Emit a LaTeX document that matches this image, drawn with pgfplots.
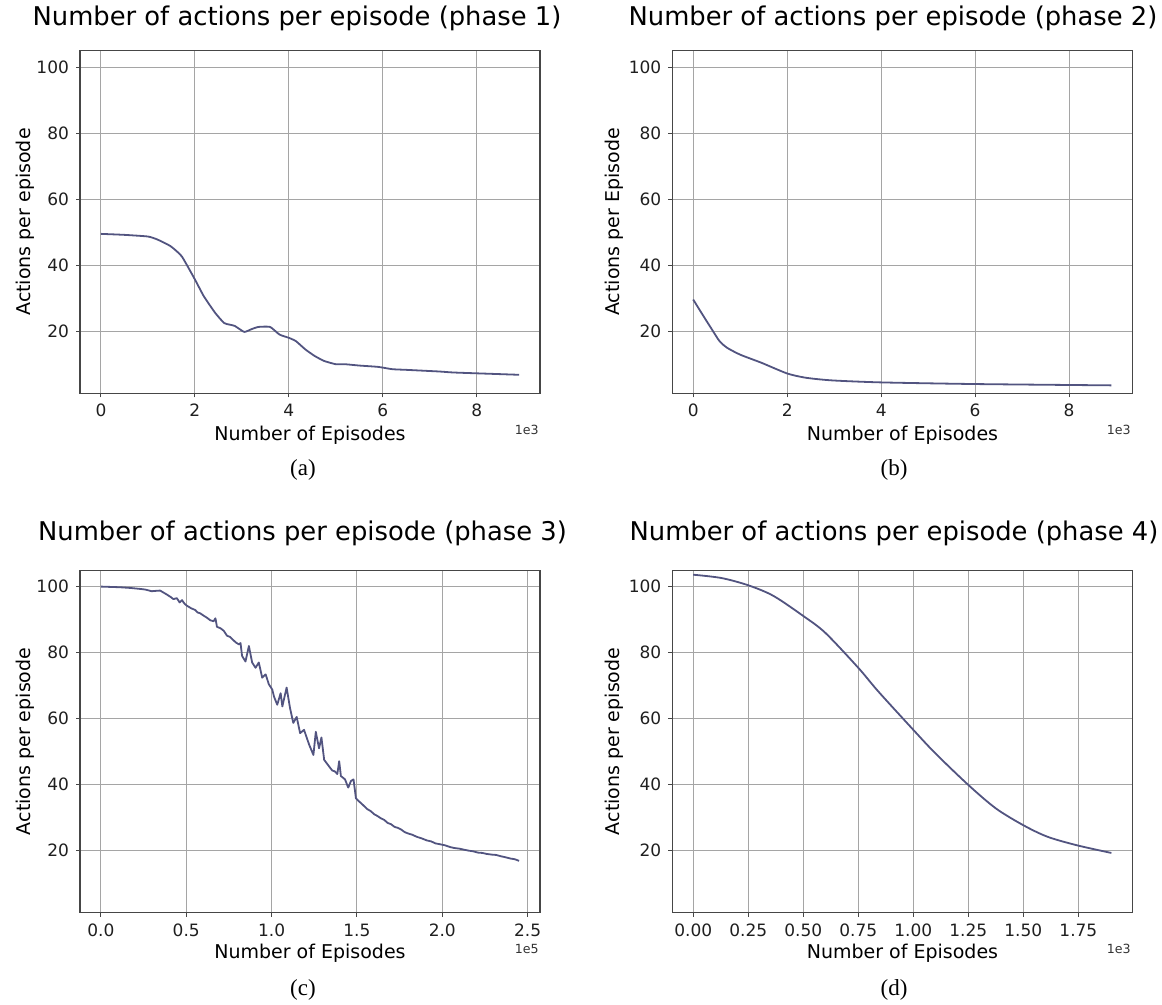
\documentclass[border=0pt]{standalone}
\usepackage{fontspec}
\setmainfont{DejaVu Sans}
\newfontfamily\capfont{Liberation Serif}
\usepackage{pgfplots}
\pgfplotsset{compat=1.18}
\definecolor{curve}{RGB}{82,84,128}
\definecolor{gridc}{RGB}{165,165,165}
\definecolor{spine}{RGB}{70,70,70}
\pgfplotsset{
  phase/.style={
    scale only axis, width=230pt, height=171.3pt,
    anchor=south west,
    ymin=1.2, ymax=105,
    ytick={20,40,60,80,100},
    grid=major, major grid style={gridc, line width=0.55pt},
    axis line style={spine, line width=0.55pt},
    tick pos=left, tick align=outside, major tick length=2pt,
    tick style={spine, line width=0.5pt},
    tick label style={font=\fontsize{8.5}{10}\selectfont, text=black!88},
    /pgf/number format/assume math mode=true,
    scaled ticks=false,
  },
  crv/.style={curve, line width=0.9pt, line join=round},
}
\tikzset{
  ttl/.style={font=\fontsize{12.9}{15}\selectfont, anchor=base, inner sep=0pt},
  lab/.style={font=\fontsize{9.5}{11}\selectfont, anchor=base, inner sep=0pt},
  off/.style={font=\fontsize{6.3}{7}\selectfont, anchor=base east, inner sep=0pt, text=black!80},
  subcap/.style={font=\capfont\fontsize{11.5}{13}\selectfont, anchor=base, inner sep=0pt},
}
\begin{document}
\begin{tikzpicture}
\useasboundingbox (0,0) rectangle (581pt,502.5pt);

% ---------- (a) phase 1 ----------
\begin{axis}[phase, at={(40pt,305.85pt)},
  xmin=-0.445, xmax=9.345, xtick={0,2,4,6,8}]
\addplot[crv, smooth, tension=0.3] coordinates {
(0,49.5)(0.5,49.2)(1.0,48.7)(1.2,47.8)(1.48,45.8)(1.72,42.7)(2.0,35.7)
(2.19,30.6)(2.43,25.6)(2.62,22.5)(2.74,22.0)(2.85,21.6)(3.05,19.8)(3.2,20.6)
(3.35,21.3)(3.6,21.3)(3.8,19.0)(4.0,18.0)(4.15,17.0)(4.35,14.5)(4.55,12.5)
(4.75,11.0)(5.0,10.0)(5.2,10.0)(5.5,9.6)(5.9,9.2)(6.2,8.5)(6.5,8.3)(7.2,7.8)
(7.5,7.5)(8.3,7.1)(8.9,6.8)};
\end{axis}

% ---------- (b) phase 2 ----------
\begin{axis}[phase, at={(336.15pt,305.85pt)},
  xmin=-0.445, xmax=9.345, xtick={0,2,4,6,8}]
\addplot[crv, smooth, tension=0.4] coordinates {
(0,29.6)(0.2,25.0)(0.4,20.5)(0.56,17.0)(0.72,15.0)(1.0,12.9)(1.46,10.4)
(2.0,7.2)(2.4,5.9)(2.96,5.1)(4.0,4.5)(6.0,4.0)(8.9,3.6)};
\end{axis}

% ---------- (c) phase 3 ----------
\begin{axis}[phase, at={(40pt,46.15pt)},
  xmin=-0.1225, xmax=2.5725, xtick={0,0.5,1,1.5,2,2.5},
  xticklabels={0.0,0.5,1.0,1.5,2.0,2.5}]
\addplot[crv] coordinates {
(0,100.0)(0.112,99.8)(0.17,99.6)(0.229,99.3)(0.26,99.1)(0.298,98.6)
(0.32,98.7)(0.347,98.8)(0.386,97.6)(0.41,96.8)(0.425,96.2)(0.445,96.5)
(0.461,95.2)(0.475,95.9)(0.49,94.8)(0.504,94.2)(0.53,93.4)(0.553,92.9)
(0.565,92.2)(0.582,91.9)(0.602,91.2)(0.62,90.6)(0.641,89.8)(0.66,89.5)
(0.671,90.4)(0.68,87.8)(0.7,87.4)(0.72,86.6)(0.739,85.1)(0.755,84.8)
(0.769,84.1)(0.79,83.1)(0.808,82.5)(0.818,82.9)(0.827,79.0)(0.847,77.3)
(0.867,82.0)(0.886,77.0)(0.906,75.4)(0.925,77.0)(0.945,72.4)(0.965,73.4)
(0.984,70.4)(1.004,68.8)(1.014,66.7)(1.033,64.2)(1.053,67.7)(1.063,63.7)
(1.088,69.4)(1.108,63.2)(1.127,58.7)(1.147,60.5)(1.167,55.6)(1.19,56.6)
(1.22,52.1)(1.245,49.0)(1.259,56.0)(1.278,51.0)(1.292,54.3)(1.308,47.5)
(1.337,45.5)(1.355,44.3)(1.371,44.0)(1.385,43.2)(1.396,47.1)(1.406,42.6)
(1.43,41.6)(1.449,39.1)(1.465,41.1)(1.48,41.6)(1.494,35.9)(1.51,35.0)
(1.524,34.4)(1.54,33.6)(1.56,32.6)(1.58,32.0)(1.602,31.0)(1.62,30.5)
(1.64,29.8)(1.66,29.3)(1.68,28.4)(1.70,28.0)(1.72,27.2)(1.74,26.9)
(1.759,26.4)(1.78,25.6)(1.8,25.2)(1.825,24.8)(1.85,24.2)(1.88,23.7)
(1.909,23.1)(1.935,22.8)(1.96,22.2)(1.99,21.9)(2.017,21.6)(2.045,21.1)
(2.07,20.8)(2.1,20.6)(2.126,20.3)(2.155,20.0)(2.18,19.8)(2.21,19.4)
(2.235,19.3)(2.26,19.0)(2.29,18.8)(2.315,18.7)(2.343,18.3)(2.37,18.0)
(2.4,17.6)(2.425,17.4)(2.45,16.9)};
\end{axis}

% ---------- (d) phase 4 ----------
\begin{axis}[phase, at={(336.15pt,46.15pt)},
  xmin=-0.095, xmax=1.995, xtick={0,0.25,0.5,0.75,1,1.25,1.5,1.75},
  xticklabels={0.00,0.25,0.50,0.75,1.00,1.25,1.50,1.75}]
\addplot[crv, smooth, tension=0.5] coordinates {
(0,103.6)(0.128,102.6)(0.25,100.4)(0.364,97.2)(0.5,91.1)(0.6,86.0)
(0.75,75.4)(0.84,68.3)(1.0,56.6)(1.1,49.5)(1.25,39.9)(1.375,32.8)
(1.5,27.7)(1.61,24.2)(1.745,21.6)(1.9,19.3)};
\end{axis}

% ---------- titles ----------
\node[ttl] at (148.5pt,489.5pt) {Number of actions per episode (phase 1)};
\node[ttl] at (446.5pt,489.5pt) {Number of actions per episode (phase 2)};
\node[ttl] at (151.25pt,232pt) {Number of actions per episode (phase 3)};
\node[ttl] at (447pt,232pt) {Number of actions per episode (phase 4)};

% ---------- axis labels ----------
\node[lab] at (155pt,282pt) {Number of Episodes};
\node[lab] at (451.25pt,282pt) {Number of Episodes};
\node[lab] at (155pt,23pt) {Number of Episodes};
\node[lab] at (451.25pt,23pt) {Number of Episodes};
\node[lab, rotate=90] at (15pt,391.5pt) {Actions per episode};
\node[lab, rotate=90] at (309.75pt,391.5pt) {Actions per Episode};
\node[lab, rotate=90] at (15pt,131.8pt) {Actions per episode};
\node[lab, rotate=90] at (309.75pt,131.8pt) {Actions per episode};

% ---------- offset texts ----------
\node[off] at (269.5pt,285pt) {1e3};
\node[off] at (565.5pt,285pt) {1e3};
\node[off] at (269.5pt,25.5pt) {1e5};
\node[off] at (565.5pt,25.5pt) {1e3};

% ---------- captions ----------
\node[subcap] at (151.5pt,264.5pt) {(a)};
\node[subcap] at (447pt,264.5pt) {(b)};
\node[subcap] at (151.5pt,4.5pt) {(c)};
\node[subcap] at (447pt,4.5pt) {(d)};
\end{tikzpicture}
\end{document}
